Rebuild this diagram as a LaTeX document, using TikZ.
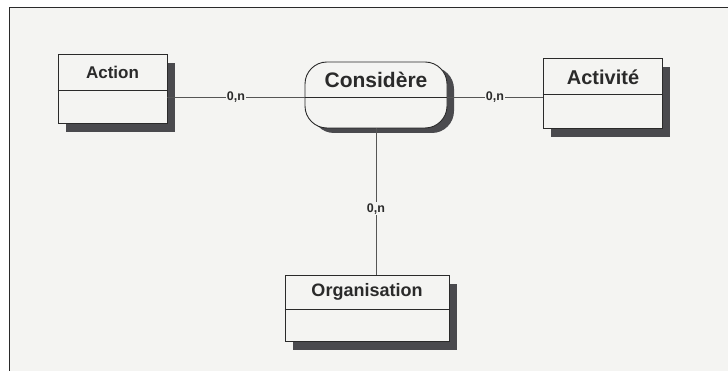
\documentclass[tikz,border=0pt]{standalone}
\usepackage{fontspec}
\setmainfont{Liberation Sans}
\usetikzlibrary{shadows}
\definecolor{bg}{HTML}{F4F4F2}
\definecolor{ink}{HTML}{2A2A2A}
\definecolor{shd}{HTML}{4A4A4E}
\tikzset{
  entity/.style={draw=ink, line width=0.9pt, fill=bg, rectangle, inner sep=0pt,
    drop shadow={shadow xshift=8pt, shadow yshift=-9pt, fill=shd, opacity=1}},
  assoc/.style={draw=ink, line width=0.9pt, fill=bg, rectangle, rounded corners=22pt, inner sep=0pt,
    drop shadow={shadow xshift=7pt, shadow yshift=-5pt, fill=shd, opacity=1}},
  title/.style={text=ink, inner sep=0pt},
  link/.style={draw=ink!80, line width=0.8pt},
  card/.style={fill=bg, text=ink, font=\fontsize{12.5}{14}\selectfont\bfseries, inner sep=1pt}
}
\begin{document}
\begin{tikzpicture}[x=1pt,y=-1pt]
\useasboundingbox (0,0) rectangle (728,371);
\fill[white] (0,0) rectangle (728,371);
\fill[bg] (9,8) rectangle (728,371);
\draw[ink, line width=1pt] (9,371) -- (9,8) -- (728,8);

% entities
\node[entity, minimum width=109pt, minimum height=69pt] (action) at (112.5,88.5) {};
\draw[ink, line width=0.9pt] (action.west |- 0,90) coordinate (ad1) -- (action.east |- 0,90) coordinate (ad2);
\node[title, font=\fontsize{17}{20}\selectfont\bfseries] (actiont) at (112.5,72) {Action};

\node[entity, minimum width=119pt, minimum height=70pt] (activite) at (602.5,93) {};
\draw[ink, line width=0.9pt] (activite.west |- 0,94) coordinate (bd1) -- (activite.east |- 0,94) coordinate (bd2);
\node[title, font=\fontsize{20}{23}\selectfont\bfseries] (activitet) at (603,77) {Activité};

\node[entity, minimum width=164pt, minimum height=66pt] (orga) at (367,308) {};
\draw[ink, line width=0.9pt] (orga.west |- 0,309) coordinate (cd1) -- (orga.east |- 0,309) coordinate (cd2);
\node[title, font=\fontsize{18}{21}\selectfont\bfseries] (orgat) at (367,292) {Organisation};

% association
\node[assoc, minimum width=142pt, minimum height=66pt] (cons) at (376,95) {};
\draw[ink, line width=0.9pt] (cons.west |- 0,97) coordinate (dd1) -- (cons.east |- 0,97) coordinate (dd2);
\node[title, font=\fontsize{21}{24}\selectfont\bfseries] (const) at (376,80) {Considère};

% connectors
\draw[link] (dd1) -- node[card] (l1) {0,n} (dd1 -| action.east);
\draw[link] (dd2) -- node[card] (l2) {0,n} (dd2 -| activite.west);
\draw[link] (cons.south) -- node[card, pos=0.55] (l3) {0,n} (cons.south |- orga.north);
\end{tikzpicture}
\end{document}
